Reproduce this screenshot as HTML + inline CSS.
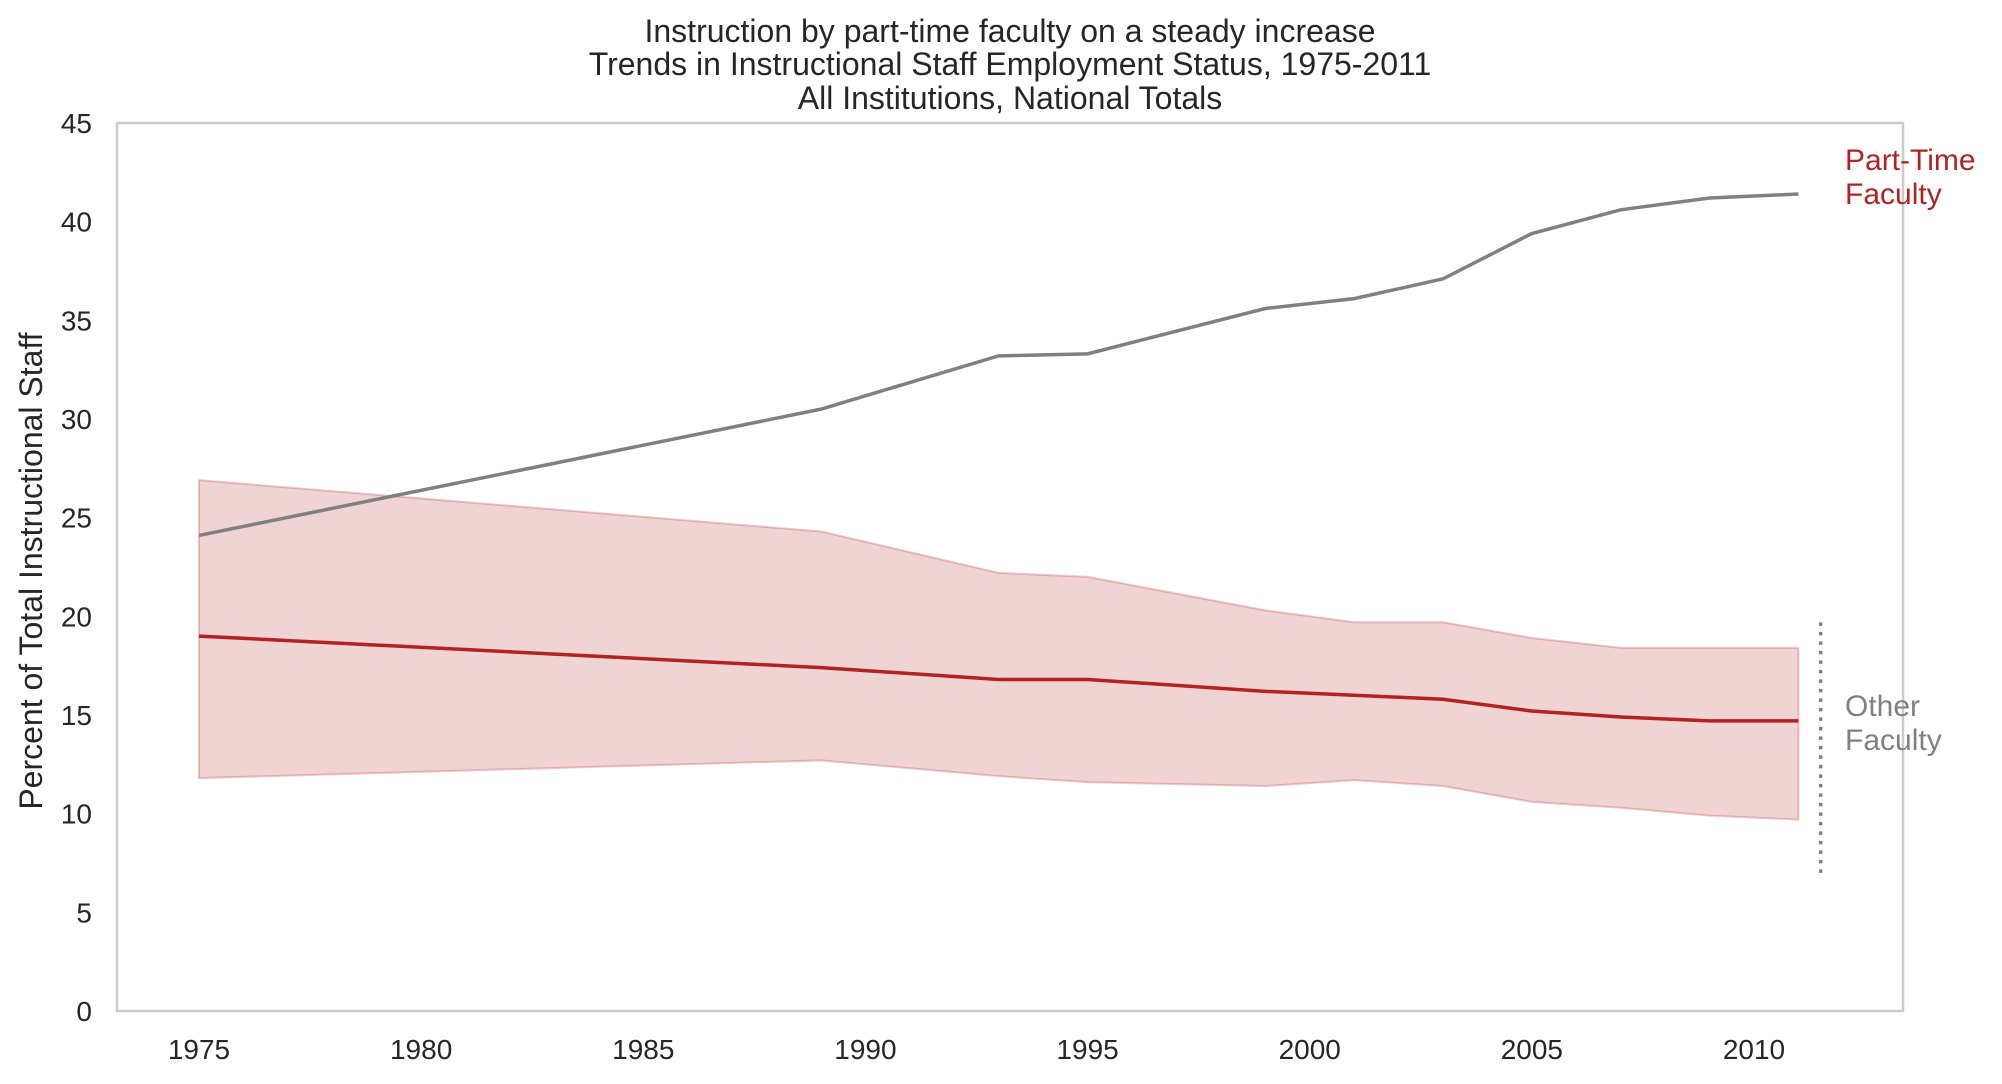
<!DOCTYPE html>
<html><head><meta charset="utf-8"><style>
html,body{margin:0;padding:0;background:#fff;}
svg{display:block;font-family:"Liberation Sans",Arial,sans-serif;}
</style></head><body>
<svg id="chart" width="2002" height="1084" viewBox="0 0 2002 1084" xmlns="http://www.w3.org/2000/svg">
<g font-size="32" fill="#262626" text-anchor="middle">
<text x="1010" y="42">Instruction by part-time faculty on a steady increase</text>
<text x="1010" y="75">Trends in Instructional Staff Employment Status, 1975-2011</text>
<text x="1010" y="109">All Institutions, National Totals</text>
</g>
<g id="plot"></g>
<text transform="translate(42,571) rotate(-90)" font-size="32" fill="#262626" text-anchor="middle">Percent of Total Instructional Staff</text>
</svg>
<script>
const years = [1975,1989,1993,1995,1999,2001,2003,2005,2007,2009,2011];
const partTime = [24.1,30.5,33.2,33.3,35.6,36.1,37.1,39.4,40.6,41.2,41.4];
const otherMid = [19.0,17.4,16.8,16.8,16.2,16.0,15.8,15.2,14.9,14.7,14.7];
const otherHigh = [26.9,24.3,22.2,22.0,20.3,19.7,19.7,18.9,18.4,18.4,18.4];
const otherLow = [11.8,12.7,11.9,11.6,11.4,11.7,11.4,10.6,10.3,9.9,9.7];
const yTicks = [0,5,10,15,20,25,30,35,40,45];
const xTicks = [1975,1980,1985,1990,1995,2000,2005,2010];
const markerYear = 2011.5, markerLow = 7, markerHigh = 20;

const L=117,R=1903,T=123,B=1011;
const x = v => 199 + (v-1975)*(1754-199)/35;
const y = v => B - v*(B-T)/45;
const NS="http://www.w3.org/2000/svg";
const g=document.getElementById('plot');
function mk(tag,attrs){const e=document.createElementNS(NS,tag);for(const k in attrs)e.setAttribute(k,attrs[k]);g.appendChild(e);return e;}

let d='M'+years.map((yr,i)=>x(yr)+','+y(otherHigh[i])).join('L');
for(let i=years.length-1;i>=0;i--) d+='L'+x(years[i])+','+y(otherLow[i]);
d+='Z';
const band=mk('path',{d:d,fill:'#b22222','fill-opacity':0.2,stroke:'#b22222','stroke-opacity':0.25,'stroke-width':2});



const pt=mk('polyline',{points:years.map((yr,i)=>x(yr)+','+y(partTime[i])).join(' '),fill:'none',stroke:'#808080','stroke-width':3.5});



const om=mk('polyline',{points:years.map((yr,i)=>x(yr)+','+y(otherMid[i])).join(' '),fill:'none',stroke:'#b22222','stroke-width':3.5});



const dl=mk('line',{x1:x(markerYear),x2:x(markerYear),y1:y(markerLow),y2:y(markerHigh),stroke:'#808080','stroke-width':3.5,'stroke-dasharray':'3.5 6'});



const fr=mk('rect',{x:L,y:T,width:R-L,height:B-T,fill:'none',stroke:'#cccccc','stroke-width':2.5});



yTicks.forEach(v=>{
  const t=mk('text',{x:92,y:y(v)+10,'font-size':28,fill:'#262626','text-anchor':'end'});
  t.textContent=v;
  
  
});
xTicks.forEach(v=>{
  const t=mk('text',{x:x(v),y:1059,'font-size':28,fill:'#262626','text-anchor':'middle'});
  t.textContent=v;
  
  
});

function label(lines,yy,color,name){
  const t=mk('text',{x:1845,y:yy,'font-size':30,fill:color});
  
  
  lines.forEach((s,i)=>{const sp=document.createElementNS(NS,'tspan');sp.setAttribute('x',1845);sp.setAttribute('dy',i?34:0);sp.textContent=s;t.appendChild(sp);});
}
label(['Part-Time','Faculty'],170,'#b22222','part-time-faculty-label');
label(['Other','Faculty'],716,'#808080','other-faculty-label');
</script>
</body></html>
